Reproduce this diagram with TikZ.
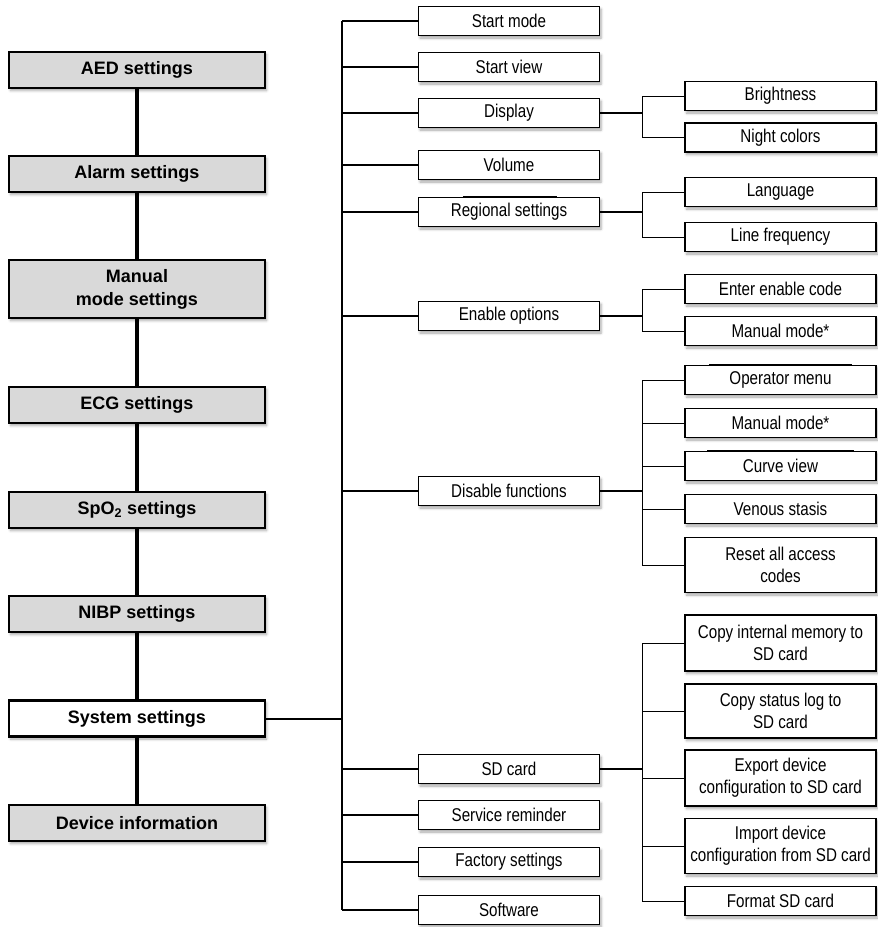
\documentclass[tikz,border=0pt]{standalone}
\usepackage{fontspec}
\setmainfont{Liberation Sans}
\newfontfamily\narrowsans[FakeStretch=0.82]{Liberation Sans}
\usetikzlibrary{shadows.blur,calc}
\definecolor{boxgray}{RGB}{217,217,217}

\begin{document}
\begin{tikzpicture}[x=1pt,y=-1pt,
  softshadow/.style={blur shadow={shadow xshift=1.5pt, shadow yshift=-2.5pt,
      shadow blur radius=2.5pt, shadow opacity=35}},
  mainbox/.style={draw=black, line width=2.5pt, fill=boxgray, inner sep=0pt,
      minimum width=256pt, minimum height=36pt, align=center,
      font=\fontsize{18}{23}\selectfont\bfseries, softshadow},
  subbox/.style={draw=black, line width=1.3pt, fill=white, inner sep=0pt,
      minimum width=181pt, minimum height=29pt, align=center,
      font=\narrowsans\fontsize{18.5}{21.7}\selectfont, softshadow},
  leafbox/.style={subbox, minimum width=191pt},
  chain/.style={line width=3.5pt},
  bus/.style={line width=2pt},
  stub/.style={line width=1.2pt},
  heavystub/.style={line width=2pt},
  elbow/.style={line width=1pt},
  heavyedge/.style={line width=2pt}
]
\useasboundingbox (0,0) rectangle (878,927);

% main menu column
\node[mainbox] (aed)     at (137,70)    {AED settings};
\node[mainbox] (alarm)   at (137,174)   {Alarm settings};
\node[mainbox, minimum height=58pt] (manual) at (137,289) {Manual\\mode settings};
\node[mainbox] (ecg)     at (137,405)   {ECG settings};
\node[mainbox] (spo)     at (137,510)   {SpO\textsubscript{2} settings};
\node[mainbox] (nibp)    at (137,614)   {NIBP settings};
\node[mainbox, fill=white] (system) at (137,718.5) {System settings};
\node[mainbox] (device)  at (137,823)   {Device information};

\draw[chain] (aed) -- (alarm);
\draw[chain] (alarm) -- (manual);
\draw[chain] (manual) -- (ecg);
\draw[chain] (ecg) -- (spo);
\draw[chain] (spo) -- (nibp);
\draw[chain] (nibp) -- (system);
\draw[chain] (system) -- (device);

% system settings submenu
\node[subbox] (smode)    at (509,21)  {Start mode};
\node[subbox] (sview)    at (509,67)  {Start view};
\node[subbox] (disp)     at (509,113) {Display};
\node[subbox] (vol)      at (509,165) {Volume};
\node[subbox] (regional) at (509,212) {Regional settings};
\node[subbox] (enable)   at (509,316) {Enable options};
\node[subbox] (disable)  at (509,491) {Disable functions};
\node[subbox] (sdcard)   at (509,769) {SD card};
\node[subbox] (service)  at (509,815) {Service reminder};
\node[subbox] (factory)  at (509,862) {Factory settings};
\node[subbox] (software) at (509,910) {Software};

\coordinate (busTop) at (342,21);
\coordinate (busBot) at (342,910);
\draw[bus] (busTop) -- (busBot);
\draw[heavystub] (system.east) -- (system.east -| busTop);
\foreach \n in {smode,sview,disp,vol,regional,enable,disable,sdcard,service,factory,software}
  \draw[stub] (\n.west -| busTop) -- (\n.west);

% third level
\node[leafbox] (bright)   at (780.5,96)  {Brightness};
\node[leafbox] (night)    at (780.5,137.5) {Night colors};
\node[leafbox] (lang)     at (780.5,192) {Language};
\node[leafbox] (linefreq) at (780.5,237) {Line frequency};
\node[leafbox] (enter)    at (780.5,289) {Enter enable code};
\node[leafbox] (manA)     at (780.5,331) {Manual mode*};
\node[leafbox] (oper)     at (780.5,380) {Operator menu};
\node[leafbox] (manB)     at (780.5,423) {Manual mode*};
\node[leafbox] (curve)    at (780.5,466) {Curve view};
\node[leafbox] (venous)   at (780.5,509) {Venous stasis};
\node[leafbox, minimum height=55pt] (reset)   at (780.5,565) {Reset all access\\codes};
\node[leafbox, minimum height=56pt] (copymem) at (780.5,643) {Copy internal memory to\\SD card};
\node[leafbox, minimum height=54pt] (copylog) at (780.5,711) {Copy status log to\\SD card};
\node[leafbox, minimum height=56pt] (export)  at (780.5,778) {Export device\\configuration to SD card};
\node[leafbox, minimum height=55pt] (import)  at (780.5,846) {Import device\\configuration from SD card};
\node[leafbox] (format)   at (780.5,901) {Format SD card};

% branch junctions
\coordinate (dispJ) at (642,113);
\coordinate (regJ)  at (642,212);
\coordinate (enJ)   at (642,316);
\coordinate (disJ)  at (642,491);
\coordinate (sdJ)   at (642,769);

\draw[stub] (disp.east) -- (dispJ);
\draw[stub] (regional.east) -- (regJ);
\draw[stub] (enable.east) -- (enJ);
\draw[heavystub] (disable.east) -- (disJ);
\draw[heavystub] (sdcard.east) -- (sdJ);

\foreach \j/\n in {dispJ/bright, dispJ/night, regJ/lang, regJ/linefreq,
    enJ/enter, enJ/manA, disJ/oper, disJ/manB, disJ/curve, disJ/venous, disJ/reset,
    sdJ/copymem, sdJ/copylog, sdJ/export, sdJ/import, sdJ/format}
  \draw[elbow] (\j) |- (\n.west);

% heavier segments along some top edges
\draw[heavyedge] ($(regional.north west)+(45,0)$) -- ($(regional.north west)+(139,0)$);
\draw[heavyedge] ($(oper.north west)+(25,0)$) -- ($(oper.north west)+(168,0)$);
\draw[heavyedge] ($(curve.north west)+(23,0)$) -- ($(curve.north west)+(170,0)$);
\end{tikzpicture}
\end{document}
